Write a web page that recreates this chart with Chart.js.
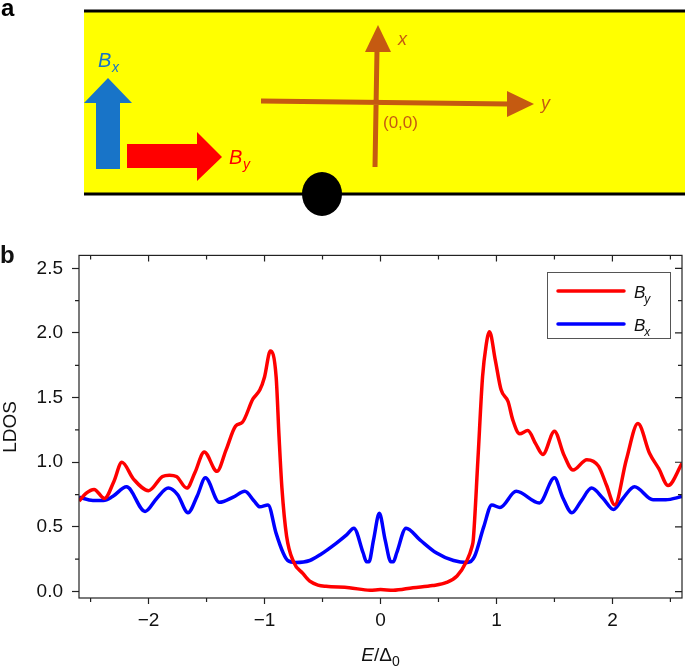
<!DOCTYPE html>
<html>
<head>
<meta charset="utf-8">
<script src="https://cdn.jsdelivr.net/npm/chart.js@4.4.1/dist/chart.umd.min.js"></script>
<style>
html, body { margin: 0; padding: 0; background: #fff; }
#wrap { position: relative; width: 685px; height: 666px; }
#schem { position: absolute; left: 0; top: 0; }
#chart { position: absolute; left: 0; top: 235px; }
</style>
</head>
<body>
<div id="wrap">
<canvas id="schem" width="685" height="235"></canvas>
<canvas id="chart" width="685" height="431"></canvas>
</div>
<script>
// energies (E/Delta0) and LDOS
var eBy = [-2.60, -2.54, -2.47, -2.38, -2.30, -2.23, -2.13, -2.00, -1.88, -1.82, -1.76, -1.67, -1.60, -1.52, -1.41, -1.33, -1.25,
    -1.19, -1.10, -1.04, -1.00, -0.95, -0.90, -0.875, -0.85, -0.81, -0.75, -0.67, -0.61, -0.54, -0.47, -0.27, -0.09, 0.00,
    0.11, 0.28, 0.45, 0.57, 0.66, 0.74, 0.79, 0.80, 0.84, 0.88, 0.91, 0.94, 0.99, 1.04, 1.10, 1.14, 1.20, 1.27, 1.34, 1.40,
    1.50, 1.58, 1.66, 1.78, 1.88, 1.95, 2.02, 2.12, 2.22, 2.32, 2.40, 2.48, 2.60];
var ldosBy = [0.70, 0.76, 0.79, 0.72, 0.85, 1.00, 0.87, 0.78, 0.89, 0.90, 0.89, 0.80, 0.92, 1.08, 0.93, 1.10, 1.28,
    1.31, 1.49, 1.56, 1.66, 1.86, 1.66, 1.20, 0.80, 0.43, 0.23, 0.14, 0.08, 0.05, 0.04, 0.03, 0.01, 0.015,
    0.01, 0.03, 0.046, 0.07, 0.12, 0.23, 0.35, 0.40, 1.02, 1.66, 1.90, 2.01, 1.79, 1.56, 1.47, 1.33, 1.22, 1.245, 1.14, 1.06,
    1.24, 1.06, 0.94, 1.02, 0.97, 0.82, 0.67, 1.02, 1.30, 1.07, 0.95, 0.82, 0.99];

var eBx = [-2.60, -2.48, -2.39, -2.31, -2.19, -2.03, -1.93, -1.83, -1.75, -1.66, -1.58, -1.51, -1.39, -1.27, -1.17, -1.09,
    -1.04, -0.97, -0.90, -0.84, -0.80, -0.73, -0.61, -0.52, -0.38, -0.29, -0.23, -0.15, -0.12, -0.10, -0.06, -0.01, 0.04,
    0.09, 0.11, 0.14, 0.22, 0.34, 0.48, 0.63, 0.75, 0.81, 0.89, 0.96, 1.03, 1.17, 1.37, 1.50, 1.57, 1.65, 1.73, 1.82, 1.92,
    2.01, 2.09, 2.19, 2.35, 2.46, 2.60];
var ldosBx = [0.73, 0.705, 0.705, 0.735, 0.81, 0.62, 0.72, 0.80, 0.75, 0.61, 0.74, 0.88, 0.69, 0.73, 0.775, 0.70,
    0.655, 0.67, 0.45, 0.30, 0.24, 0.225, 0.24, 0.285, 0.375, 0.44, 0.49, 0.30, 0.23, 0.23, 0.40, 0.605, 0.40,
    0.23, 0.23, 0.30, 0.49, 0.40, 0.30, 0.24, 0.225, 0.27, 0.50, 0.67, 0.65, 0.775, 0.685, 0.88, 0.73, 0.61, 0.70, 0.80, 0.72,
    0.635, 0.72, 0.81, 0.71, 0.71, 0.735];

var xTicks = [-2, -1, 0, 1, 2];
var xMinor = [-2.5, -1.5, -0.5, 0.5, 1.5, 2.5];
var yTicks = [0, 0.5, 1, 1.5, 2, 2.5];
var yMinor = [0.25, 0.75, 1.25, 1.75, 2.25];

var FONT = '"Liberation Sans", Arial, Helvetica, sans-serif';

function poly(c, pts) {
    c.beginPath();
    c.moveTo(pts[0][0], pts[0][1]);
    for (var i = 1; i < pts.length; i++) c.lineTo(pts[i][0], pts[i][1]);
    c.closePath();
    c.fill();
}

// panel a: the sketch of the strip
function drawSchematic() {
    var c = document.getElementById('schem').getContext('2d');
    c.fillStyle = '#000';
    c.font = 'bold 24px ' + FONT;
    c.fillText('a', 1, 16);

    c.fillStyle = '#ffff00';
    c.fillRect(84, 11, 601, 183);
    c.strokeStyle = '#000';
    c.lineWidth = 3;
    c.beginPath();
    c.moveTo(84, 11); c.lineTo(685, 11);
    c.moveTo(84, 194); c.lineTo(685, 194);
    c.stroke();

    c.fillStyle = '#000';
    c.beginPath();
    c.ellipse(322, 194, 20, 22, 0, 0, 2 * Math.PI);
    c.fill();

    c.fillStyle = '#1874c8';
    poly(c, [[96, 169], [96, 103], [84, 103], [108, 78], [132, 103], [120, 103], [120, 169]]);
    c.fillStyle = '#ff0000';
    poly(c, [[127, 144], [197, 144], [197, 132], [222, 157], [197, 181], [197, 168], [127, 168]]);

    var orange = '#c55a11';
    c.strokeStyle = orange;
    c.lineWidth = 5;
    c.beginPath();
    c.moveTo(375, 167); c.lineTo(377, 50);
    c.moveTo(261, 101); c.lineTo(509, 104);
    c.stroke();
    c.fillStyle = orange;
    poly(c, [[365, 52], [378, 25], [391, 52]]);
    poly(c, [[507, 91], [534, 104], [507, 117]]);

    c.font = 'italic 18px ' + FONT;
    c.fillText('x', 398, 45);
    c.fillText('y', 541, 109);
    c.font = '17px ' + FONT;
    c.fillText('(0,0)', 383, 128);

    c.fillStyle = '#1874c8';
    c.font = 'italic 20px ' + FONT;
    c.fillText('B', 98, 67);
    c.font = 'italic 14px ' + FONT;
    c.fillText('x', 112, 72);

    c.fillStyle = '#ff0000';
    c.font = 'italic 20px ' + FONT;
    c.fillText('B', 229, 164);
    c.font = 'italic 14px ' + FONT;
    c.fillText('y', 243, 169);
}

function subLabel(ctx, x, y, main, sub, size) {
    ctx.font = 'italic ' + size + 'px ' + FONT;
    ctx.fillText(main, x, y);
    var w = ctx.measureText(main).width;
    ctx.font = 'italic ' + Math.round(size * 0.72) + 'px ' + FONT;
    ctx.fillText(sub, x + w - 1, y + 5);
}

var framePlugin = {
    id: 'frame',
    afterDraw: function (chart) {
        var ctx = chart.ctx, a = chart.chartArea;
        var xs = chart.scales.x, ys = chart.scales.y;
        ctx.save();
        ctx.strokeStyle = '#222';
        ctx.lineWidth = 1.2;
        ctx.strokeRect(a.left, a.top, a.right - a.left, a.bottom - a.top);

        ctx.beginPath();
        yTicks.forEach(function (v) {
            var p = ys.getPixelForValue(v);
            ctx.moveTo(a.right, p); ctx.lineTo(a.right - 7, p);
        });
        yMinor.forEach(function (v) {
            var p = ys.getPixelForValue(v);
            ctx.moveTo(a.left, p); ctx.lineTo(a.left - 4, p);
            ctx.moveTo(a.right, p); ctx.lineTo(a.right - 4, p);
        });
        xTicks.forEach(function (v) {
            var p = xs.getPixelForValue(v);
            ctx.moveTo(p, a.top); ctx.lineTo(p, a.top + 6);
        });
        xMinor.forEach(function (v) {
            var p = xs.getPixelForValue(v);
            ctx.moveTo(p, a.bottom); ctx.lineTo(p, a.bottom + 4);
            ctx.moveTo(p, a.top); ctx.lineTo(p, a.top + 4);
        });
        ctx.stroke();

        // legend
        ctx.fillStyle = '#fff';
        ctx.fillRect(547, 37, 123, 66);
        ctx.strokeStyle = '#555';
        ctx.lineWidth = 1;
        ctx.strokeRect(547.5, 37.5, 123, 66);
        ctx.lineCap = 'round';
        ctx.lineWidth = 3.5;
        chart.data.datasets.forEach(function (ds, i) {
            var y = 56 + i * 33;
            ctx.strokeStyle = ds.borderColor;
            ctx.beginPath();
            ctx.moveTo(558, y); ctx.lineTo(624, y);
            ctx.stroke();
            ctx.fillStyle = '#111';
            subLabel(ctx, 634, y + 7, 'B', ds.sub, 17);
        });

        // axis titles
        ctx.fillStyle = '#111';
        ctx.save();
        ctx.translate(11, 192);
        ctx.rotate(-Math.PI / 2);
        ctx.textAlign = 'center';
        ctx.textBaseline = 'middle';
        ctx.font = '19px ' + FONT;
        ctx.fillText('LDOS', 0, 0);
        ctx.restore();

        var base = 426;
        ctx.font = 'italic 19px ' + FONT;
        var w1 = ctx.measureText('E').width;
        ctx.font = '19px ' + FONT;
        var w2 = ctx.measureText('/\u0394').width;
        ctx.font = '14px ' + FONT;
        var w3 = ctx.measureText('0').width;
        var x0 = xs.getPixelForValue(0) - (w1 + w2 + w3) / 2;
        ctx.font = 'italic 19px ' + FONT;
        ctx.fillText('E', x0, base);
        ctx.font = '19px ' + FONT;
        ctx.fillText('/\u0394', x0 + w1, base);
        ctx.font = '14px ' + FONT;
        ctx.fillText('0', x0 + w1 + w2, base + 5);

        ctx.font = 'bold 24px ' + FONT;
        ctx.fillText('b', 0, 28);
        ctx.restore();
    }
};

drawSchematic();

var ctx = document.getElementById('chart').getContext('2d');
var chart = new Chart(ctx, {
    type: 'line',
    data: {
        datasets: [
            {
                label: 'By',
                sub: 'y',
                data: eBy.map(function (e, i) { return { x: e, y: ldosBy[i] }; }),
                borderColor: '#ff0000',
                borderWidth: 3.5,
                pointRadius: 0,
                cubicInterpolationMode: 'monotone'
            },
            {
                label: 'Bx',
                sub: 'x',
                data: eBx.map(function (e, i) { return { x: e, y: ldosBx[i] }; }),
                borderColor: '#0000ff',
                borderWidth: 3.5,
                pointRadius: 0,
                cubicInterpolationMode: 'monotone'
            }
        ]
    },
    options: {
        responsive: false,
        animation: false,
        layout: { padding: { top: 20, right: 3, left: 0, bottom: 0 } },
        plugins: { legend: { display: false }, tooltip: { enabled: false } },
        scales: {
            x: {
                type: 'linear',
                min: -2.6,
                max: 2.6,
                afterBuildTicks: function (s) { s.ticks = xTicks.map(function (v) { return { value: v }; }); },
                afterFit: function (s) { s.height = 68; },
                grid: { drawOnChartArea: false, tickLength: 6, color: '#222', tickWidth: 1.2 },
                border: { display: false },
                ticks: {
                    padding: 5,
                    maxRotation: 0,
                    color: '#111',
                    font: { family: FONT, size: 19 },
                    callback: function (v) { return v < 0 ? '\u2212' + Math.abs(v) : String(v); }
                }
            },
            y: {
                min: -0.05,
                max: 2.6,
                afterBuildTicks: function (s) { s.ticks = yTicks.map(function (v) { return { value: v }; }); },
                afterFit: function (s) { s.width = 79; },
                grid: { drawOnChartArea: false, tickLength: 7, color: '#222', tickWidth: 1.2 },
                border: { display: false },
                ticks: {
                    padding: 9,
                    color: '#111',
                    font: { family: FONT, size: 19 },
                    callback: function (v) { return v.toFixed(1); }
                }
            }
        }
    },
    plugins: [framePlugin]
});
</script>
</body>
</html>
